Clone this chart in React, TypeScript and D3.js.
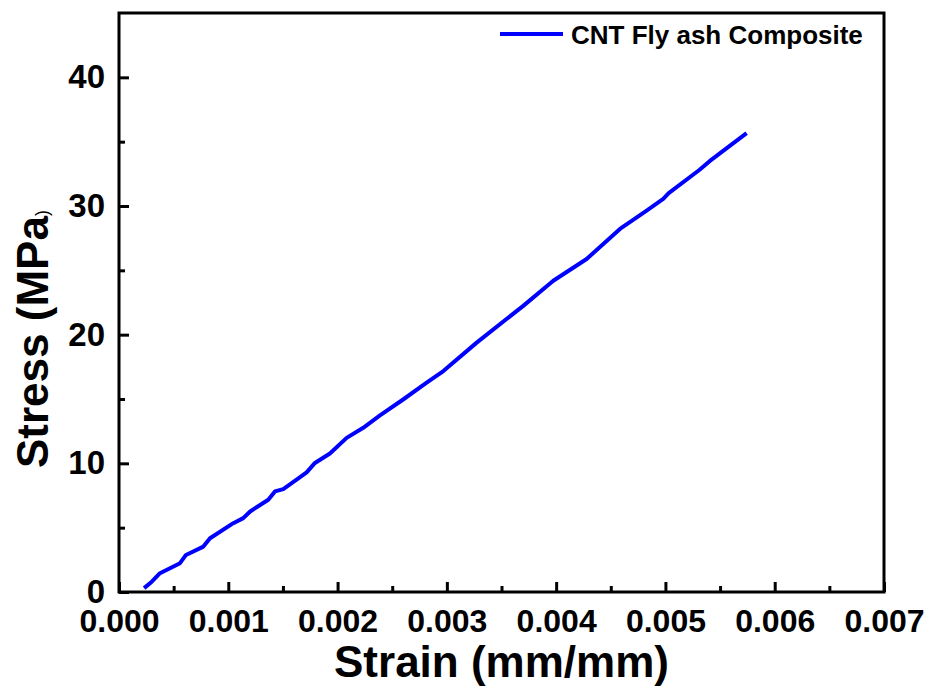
import * as React from 'react';
import * as d3 from 'd3';

const strain = [
  0.00023, 0.0003, 0.000375, 0.000558, 0.000613, 0.000772, 0.000833, 0.001046,
  0.001137, 0.0012, 0.001366, 0.001427, 0.001503, 0.001625, 0.001717, 0.001793,
  0.00193, 0.002083, 0.002235, 0.002388, 0.0026, 0.002815, 0.002968, 0.003273,
  0.003699, 0.003974, 0.004279, 0.004584, 0.004828, 0.00498, 0.00503, 0.00531,
  0.005407, 0.005743,
];
const stress = [
  0.3, 0.8, 1.46, 2.24, 2.88, 3.53, 4.18, 5.35,
  5.74, 6.26, 7.17, 7.82, 8.0, 8.73, 9.3, 10.03,
  10.76, 11.98, 12.76, 13.72, 14.96, 16.27, 17.17, 19.38,
  22.24, 24.19, 25.88, 28.22, 29.64, 30.55, 31.0, 32.8,
  33.5, 35.67,
];
const xTicks = [0, 0.001, 0.002, 0.003, 0.004, 0.005, 0.006, 0.007];
const xMinor = [0.0005, 0.0015, 0.0025, 0.0035, 0.0045, 0.0055, 0.0065];
const yTicks = [0, 10, 20, 30, 40];
const yMinor = [5, 15, 25, 35];
const seriesName = 'CNT Fly ash Composite';

const FONT = '"Liberation Sans", Arial, sans-serif';

const App = () => {
  const ref = React.useRef<SVGSVGElement>(null);

  React.useEffect(() => {
    const width = 929;
    const height = 690;
    const left = 119;
    const right = 884;
    const top = 13;
    const bottom = 592;

    const svg = d3.select(ref.current);
    svg.selectAll('*').remove();
    svg.attr('width', width).attr('height', height);

    const x = d3.scaleLinear().domain([0, 0.007]).range([left, right]);
    const y = d3.scaleLinear().domain([0, 45]).range([bottom, top]);

    // minor ticks first, inward
    svg.append('g')
      .attr('transform', `translate(0,${bottom})`)
      .call(d3.axisBottom(x).tickValues(xMinor).tickSize(-6).tickSizeOuter(0).tickFormat(() => ''))
      .call(g => g.select('.domain').remove())
      .selectAll('line').attr('stroke', '#000').attr('stroke-width', 3);
    svg.append('g')
      .attr('transform', `translate(${left},0)`)
      .call(d3.axisLeft(y).tickValues(yMinor).tickSize(-6).tickSizeOuter(0).tickFormat(() => ''))
      .call(g => g.select('.domain').remove())
      .selectAll('line').attr('stroke', '#000').attr('stroke-width', 3);

    // major ticks with labels
    const xAxis = svg.append('g')
      .attr('transform', `translate(0,${bottom})`)
      .call(d3.axisBottom(x).tickValues(xTicks).tickSize(-10).tickSizeOuter(0)
        .tickPadding(17).tickFormat(d3.format('.3f')));
    xAxis.select('.domain').remove();
    xAxis.selectAll('line').attr('stroke', '#000').attr('stroke-width', 3);
    xAxis.selectAll('text')
      .attr('font-family', FONT).attr('font-weight', 'bold').attr('font-size', 32).attr('fill', '#000');

    const yAxis = svg.append('g')
      .attr('transform', `translate(${left},0)`)
      .call(d3.axisLeft(y).tickValues(yTicks).tickSize(-10).tickSizeOuter(0)
        .tickPadding(14).tickFormat(d3.format('d')));
    yAxis.select('.domain').remove();
    yAxis.selectAll('line').attr('stroke', '#000').attr('stroke-width', 3);
    yAxis.selectAll('text')
      .attr('font-family', FONT).attr('font-weight', 'bold').attr('font-size', 33).attr('fill', '#000');

    // frame
    svg.append('rect')
      .attr('x', left).attr('y', top)
      .attr('width', right - left).attr('height', bottom - top)
      .attr('fill', 'none').attr('stroke', '#000').attr('stroke-width', 3);

    // data line
    const line = d3.line<number>()
      .x((_, i) => x(strain[i]))
      .y((d) => y(d));
    svg.append('path')
      .datum(stress)
      .attr('d', line)
      .attr('fill', 'none')
      .attr('stroke', '#0000ff')
      .attr('stroke-width', 4)
      .attr('stroke-linejoin', 'round');

    // legend
    svg.append('line')
      .attr('x1', 500).attr('x2', 563).attr('y1', 34).attr('y2', 34)
      .attr('stroke', '#0000ff').attr('stroke-width', 4);
    svg.append('text')
      .attr('x', 571).attr('y', 44)
      .attr('font-family', FONT).attr('font-weight', 'bold').attr('font-size', 26)
      .text(seriesName);

    // axis titles
    svg.append('text')
      .attr('x', (left + right) / 2).attr('y', 677)
      .attr('text-anchor', 'middle')
      .attr('font-family', FONT).attr('font-weight', 'bold').attr('font-size', 44)
      .text('Strain (mm/mm)');

    const yTitle = svg.append('text')
      .attr('transform', 'translate(48,468) rotate(-90)')
      .attr('font-family', FONT).attr('font-weight', 'bold').attr('font-size', 44);
    yTitle.append('tspan').text('Stress (MPa');
    yTitle.append('tspan').attr('font-size', 18).attr('font-weight', 'normal').text(')');
  }, []);

  return (
    <svg ref={ref} style={{ position: 'absolute', left: 0, top: 0, background: '#fff' }} />
  );
};

export default App;
